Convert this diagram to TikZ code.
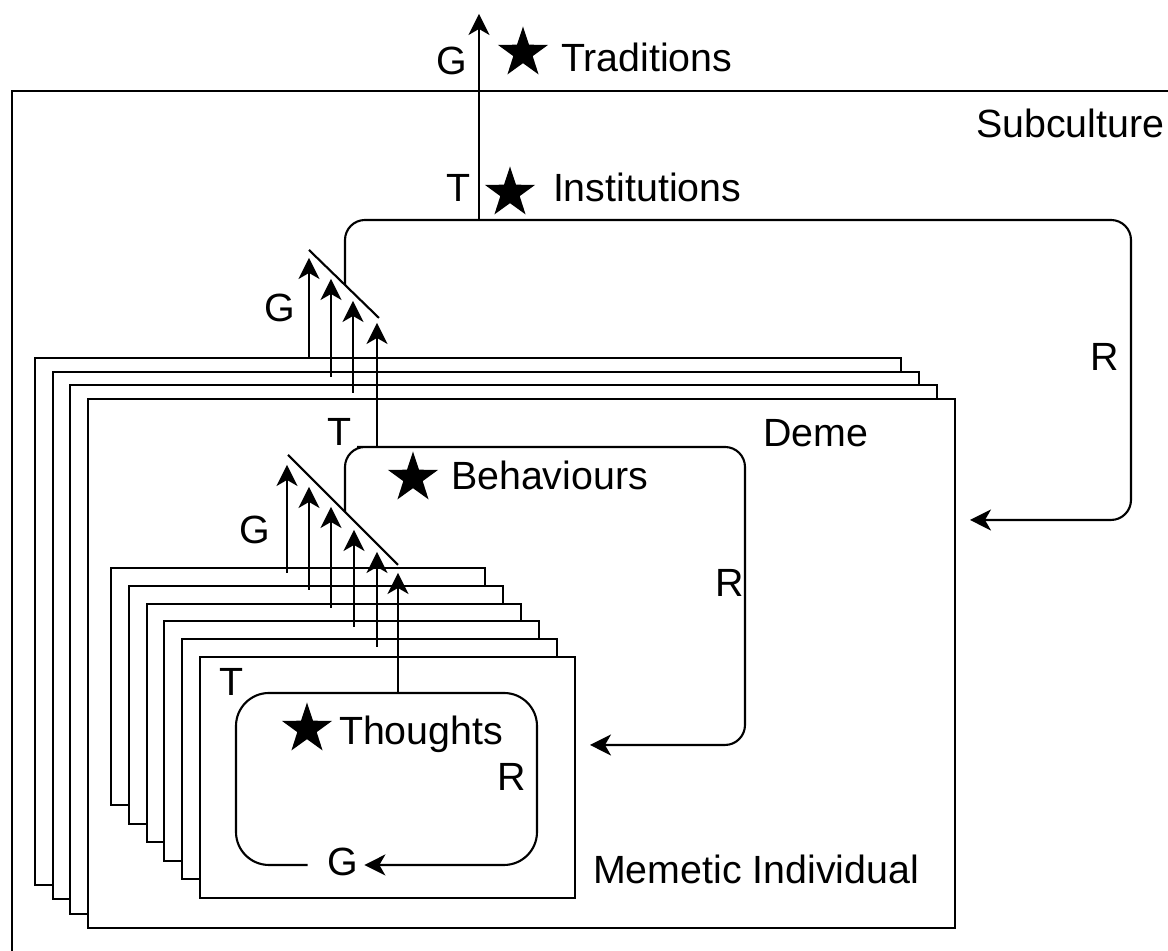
\documentclass[tikz,border=0pt]{standalone}
\usepackage{fontspec}
\setmainfont{Liberation Sans}
\usetikzlibrary{shapes.geometric,arrows.meta}

\begin{document}
\begin{tikzpicture}[x=1cm,y=-1cm,line width=0.6pt,
		every node/.style={inner sep=0pt,font=\fontsize{11.2}{13}\selectfont},
		memestar/.style={star,star points=5,star point ratio=2.6,fill=black,minimum size=0.53cm},
		frame/.style={fill=white,draw=black},
		tip/.style={-{Stealth[length=2.1mm,width=2.1mm,inset=0.6mm]}},
		loopline/.style={tip,rounded corners=0.2cm}]
	\useasboundingbox (0,0) rectangle (11.68,9.51);

	% subculture
	\draw (0.12,9.51) -- (0.12,0.91) -- (11.68,0.91);
	\node[anchor=base west] (subculture) at (9.75,1.38) {Subculture};
	\coordinate (trad) at (4.79,0.14);
	\coordinate (instTop) at (4.79,2.20);
	\draw[tip] (instTop) -- (trad);
	\node (gTrad) at (4.52,0.61) {G};
	\node[memestar] (sTrad) at (5.23,0.53) {};
	\node[anchor=base west] (traditions) at (5.60,0.72) {Traditions};
	\node (tInst) at (4.59,1.88) {T};
	\node[memestar] (sInst) at (5.10,1.93) {};
	\node[anchor=base west] (institutions) at (5.52,2.02) {Institutions};
	\coordinate (instIn) at (9.70,5.20);
	\draw[loopline] (3.45,2.85) -- (3.45,2.20) -- (instTop) -- (11.31,2.20) -- (11.31,5.20) -- (instIn);
	\node (rInst) at (11.05,3.57) {R};
	\draw (3.09,2.50) -- (3.79,3.18);
	\node (gDeme) at (2.80,3.08) {G};

	% deme
	\foreach \i in {0,...,3}
		\draw[frame] ({0.35+0.177*\i},{3.58+0.137*\i}) rectangle ({9.01+0.18*\i},{8.85+0.143*\i});
	\node[anchor=base west] (deme) at (7.62,4.47) {Deme};
	\node (tDeme) at (3.40,4.32) {T};
	\foreach \x/\y/\t in {3.09/3.58/2.58, 3.31/3.77/2.79, 3.53/3.93/3.01}
		\draw[tip] (\x,\y) -- (\x,\t);
	\coordinate (behTop) at (3.77,4.47);
	\draw[tip] (behTop) -- (3.77,3.23);
	\coordinate (behIn) at (5.90,7.45);
	\draw[loopline] (3.45,5.12) -- (3.45,4.47) -- (behTop) -- (7.45,4.47) -- (7.45,7.45) -- (behIn);
	\node[memestar] (sBeh) at (4.13,4.78) {};
	\node[anchor=base west] (behaviours) at (4.50,4.90) {Behaviours};
	\node (rBeh) at (7.30,5.83) {R};
	\draw (2.88,4.55) -- (3.98,5.65);
	\node (gIndiv) at (2.55,5.30) {G};

	% memetic individual
	\foreach \i in {0,...,5}
		\draw[frame] ({1.11+0.178*\i},{5.68+0.178*\i}) rectangle ({4.85+0.18*\i},{8.05+0.186*\i});
	\node[anchor=base west] (individual) at (5.92,8.84) {Memetic Individual};
	\node (tIndiv) at (2.32,6.82) {T};
	\foreach \x/\y/\t in {2.87/5.73/4.65, 3.09/5.90/4.87, 3.31/6.08/5.07, 3.54/6.27/5.30, 3.77/6.47/5.52}
		\draw[tip] (\x,\y) -- (\x,\t);
	\coordinate (thoTop) at (3.98,6.93);
	\draw[tip] (thoTop) -- (3.98,5.73);
	\node (gTho) at (3.43,8.62) {G};
	\draw[tip,rounded corners=0.33cm] ([xshift=-1.9mm]gTho.west |- 0,8.65) -- (2.36,8.65) -- (2.36,6.93) -- (thoTop)
		-- (5.37,6.93) -- (5.37,8.65) -- ([xshift=0.5mm]gTho.east |- 0,8.65);
	\node[memestar] (sTho) at (3.07,7.29) {};
	\node[anchor=base west] (thoughts) at (3.38,7.45) {Thoughts};
	\node (rTho) at (5.12,7.77) {R};
\end{tikzpicture}
\end{document}
